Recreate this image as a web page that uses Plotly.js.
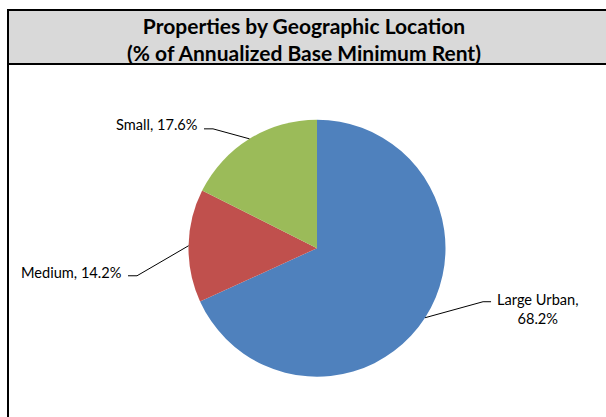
<!DOCTYPE html>
<html>
<head>
<meta charset="utf-8">
<script src="https://cdn.plot.ly/plotly-3.0.1.min.js"></script>
<style>html,body{margin:0;padding:0;background:#fff;}#chart{width:606px;height:417px;}</style>
</head>
<body>
<div id="chart"></div>
<script>
// ---- data ----
const categories = ['Large Urban', 'Medium', 'Small'];
const shares = [68.2, 14.2, 17.6];
const sliceColors = ['#4F81BD', '#C0504D', '#9BBB59'];
const chartTitle = 'Properties by Geographic Location<br>(% of Annualized Base Minimum Rent)';

// ---- layout constants (pixels) ----
const W = 606, H = 417;
const cx = 317, cy = 248.2, R = 128.5;
const labelFont = {family: 'Lato, "Open Sans", sans-serif', size: 14.6, color: '#000'};
// per-label leader geometry: elbow offset from slice edge, tail length, text gap/offset
const leader = {
  'Large Urban': {elbow: [58, -16], tail: 8, text: [4, 7.5], anchor: 'left', wrap: true},
  'Medium': {elbow: [-51.5, 30], tail: -9, text: [-4, -3], anchor: 'right', wrap: false},
  'Small': {elbow: [-36.5, -10], tail: -9, text: [-4, -4], anchor: 'right', wrap: false}
};

const px = x => x / W;
const py = y => 1 - y / H;

const total = shares.reduce((a, b) => a + b, 0);
let cum = 0;
const annotations = [];
const shapes = [
  // title box
  {type: 'rect', xref: 'paper', yref: 'paper', x0: px(8), x1: px(W + 5), y0: py(10), y1: py(64),
   fillcolor: '#D9D9D9', line: {color: '#000', width: 2}, layer: 'below'},
  // outer left border
  {type: 'line', xref: 'paper', yref: 'paper', x0: px(8), x1: px(8), y0: py(10), y1: py(H + 5),
   line: {color: '#000', width: 2}}
];

categories.forEach((cat, i) => {
  const mid = (cum + shares[i] / 2) / total * 2 * Math.PI; // clockwise from 12 o'clock
  cum += shares[i];
  const ex = cx + R * Math.sin(mid), ey = cy - R * Math.cos(mid);
  const g = leader[cat];
  const bx = ex + g.elbow[0], by = ey + g.elbow[1];
  const tx = bx + g.tail;
  shapes.push({type: 'path', xref: 'paper', yref: 'paper',
    path: `M ${px(ex)} ${py(ey)} L ${px(bx)} ${py(by)} L ${px(tx)} ${py(by)}`,
    line: {color: '#000', width: 1}});
  const txt = cat + ',' + (g.wrap ? '<br>' : ' ') + shares[i].toFixed(1) + '%';
  annotations.push({xref: 'paper', yref: 'paper', x: px(tx + g.text[0]), y: py(by + g.text[1]),
    xanchor: g.anchor, yanchor: 'middle', align: 'center', showarrow: false,
    text: txt, font: labelFont});
});

const trace = {
  type: 'pie', labels: categories, values: shares, sort: false,
  direction: 'clockwise', rotation: 0, textinfo: 'none', hoverinfo: 'none',
  marker: {colors: sliceColors, line: {width: 0}},
  domain: {x: [px(cx - R), px(cx + R)], y: [py(cy + R), py(cy - R)]},
  showlegend: false
};

const layout = {
  width: W, height: H, margin: {l: 0, r: 0, t: 0, b: 0},
  paper_bgcolor: '#fff', plot_bgcolor: '#fff', showlegend: false,
  title: {text: chartTitle, x: 304 / W, xanchor: 'center', y: py(33.5), yanchor: 'middle',
          xref: 'paper', yref: 'container',
          font: {family: 'Lato, sans-serif', size: 21, color: '#000', weight: 'bold'}},
  shapes: shapes, annotations: annotations
};

Plotly.newPlot('chart', [trace], layout, {displayModeBar: false, staticPlot: true});
</script>
</body>
</html>
